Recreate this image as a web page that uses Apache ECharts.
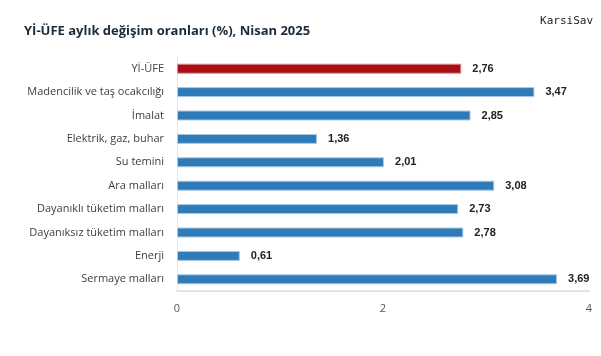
<!DOCTYPE html>
<html><head><meta charset="utf-8">
<script src="https://cdn.jsdelivr.net/npm/echarts@6/dist/echarts.min.js"></script>
<style>html,body{margin:0;padding:0;background:#fff}#c{width:601px;height:356px}</style>
</head><body><div id="c"></div>
<script>
const categories = ["Yİ-ÜFE","Madencilik ve taş ocakcılığı","İmalat","Elektrik, gaz, buhar","Su temini","Ara malları","Dayanıklı tüketim malları","Dayanıksız tüketim malları","Enerji","Sermaye malları"];
const values = [2.76,3.47,2.85,1.36,2.01,3.08,2.73,2.78,0.61,3.69];
const xTicks = [0,2,4];
const highlightIndex = 0;

const chart = echarts.init(document.getElementById('c'), null, {renderer:'canvas'});
chart.setOption({
  animation:false,
  backgroundColor:'#fff',
  title:[{text:'Yİ-ÜFE aylık değişim oranları (%), Nisan 2025',left:19,top:20,textStyle:{fontFamily:'Open Sans',fontWeight:'bold',fontSize:13,color:'#1c2b3a'}},
         {text:'KarsiSav',right:3,top:11,textStyle:{fontFamily:'DejaVu Sans Mono',fontWeight:'normal',fontSize:11,color:'#222'}}],
  grid:{left:177,right:12,top:57,bottom:65,containLabel:false},
  xAxis:{type:'value',min:xTicks[0],max:xTicks[xTicks.length-1],interval:2,
    axisLine:{show:true,lineStyle:{color:'#e3e3e3',width:2}},
    axisTick:{show:false},splitLine:{show:false},
    axisLabel:{color:'#555',fontSize:11,fontFamily:'Open Sans',margin:12}},
  yAxis:{type:'category',data:categories,inverse:true,
    axisLine:{show:true,lineStyle:{color:'#e6e6e6',width:1}},
    axisTick:{show:false},
    axisLabel:{color:'#404040',fontSize:11,fontFamily:'Open Sans',margin:13}},
  series:[{type:'bar',barWidth:10,
    data:values.map((v,i)=>({value:v,itemStyle:{color:i===highlightIndex?'#ab0d14':'#2e7bb7',borderColor:i===highlightIndex?'#d98a8e':'#a9cbe8',borderWidth:1}})),
    label:{show:true,position:'right',distance:11,fontWeight:'bold',fontSize:11,fontFamily:'Liberation Sans',color:'#222',
      formatter:p=>p.value.toFixed(2).replace('.',',')}}]
});
</script></body></html>
